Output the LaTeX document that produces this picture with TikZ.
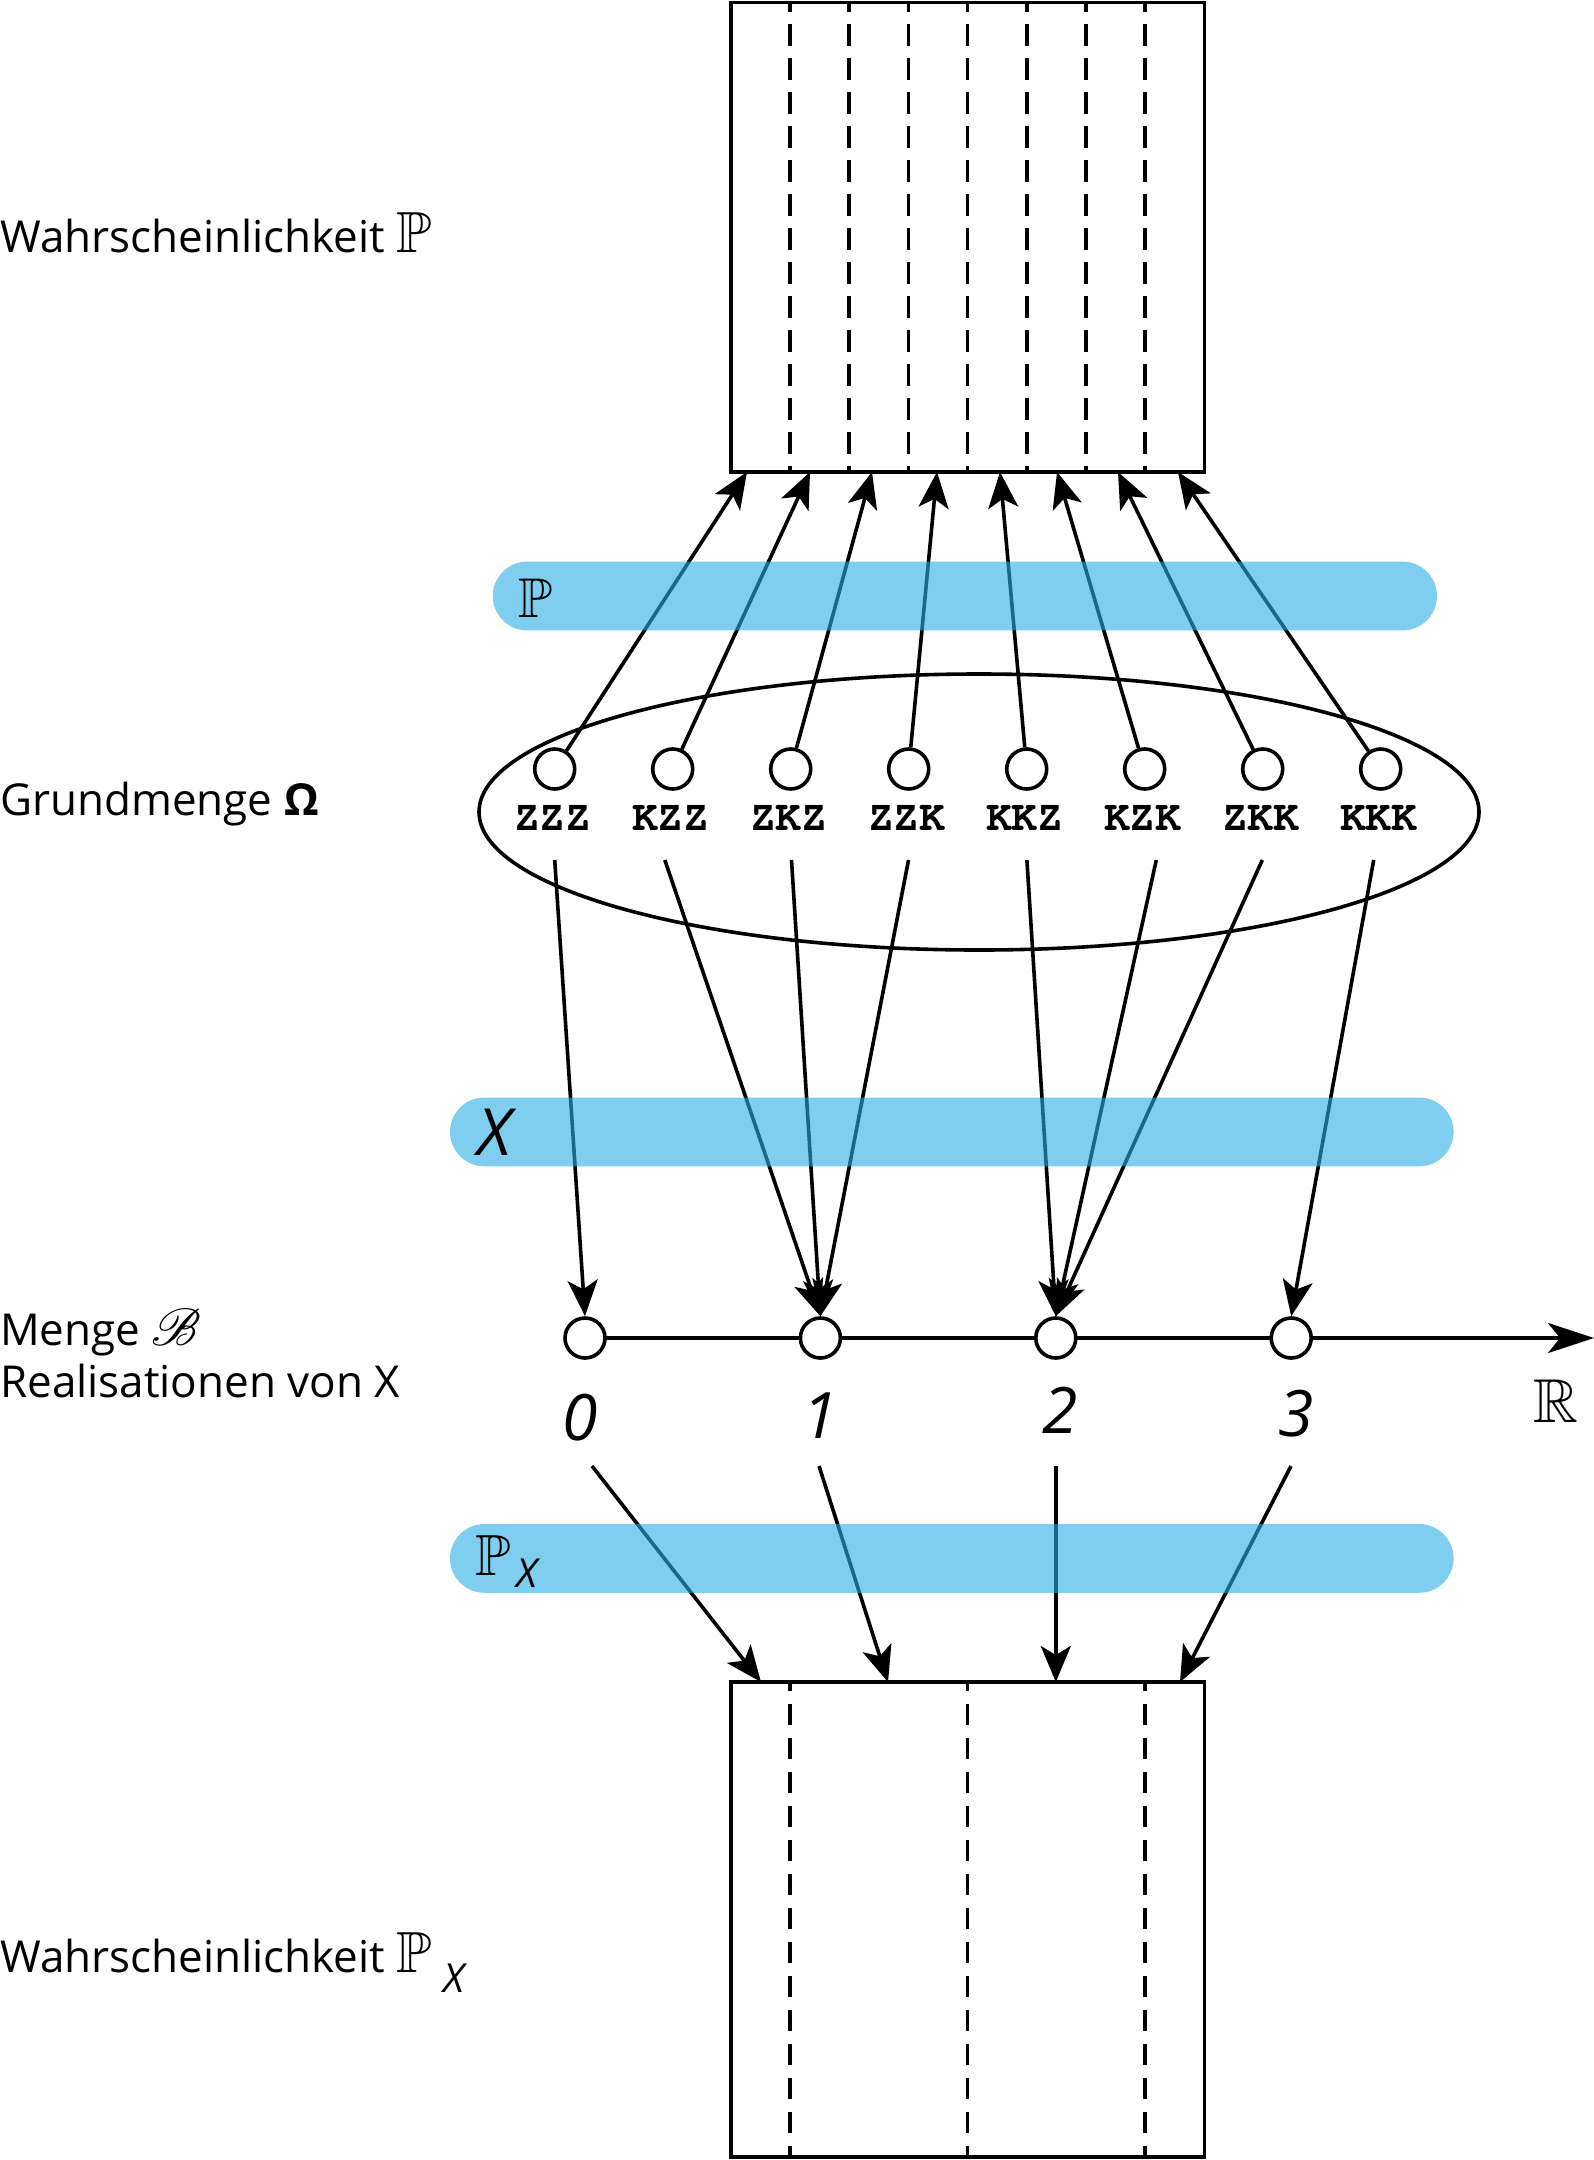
\documentclass[tikz,border=0pt]{standalone}
\usepackage{graphicx}
\usepackage{amssymb}
\usepackage{mathrsfs}
\IfFileExists{dsfont.sty}{\usepackage{dsfont}\newcommand\bbP{\mathds{P}}\newcommand\bbR{\mathds{R}}}{\newcommand\bbP{\mathbb{P}}\newcommand\bbR{\mathbb{R}}}
\usepackage{fontspec}
\setmainfont{Open Sans}
\usetikzlibrary{arrows.meta}
\definecolor{bandblue}{RGB}{42,173,230}
\newcommand\courbold{\fontencoding{T1}\fontfamily{pcr}\fontseries{b}\fontsize{43}{43}\selectfont}
\tikzset{
  ln/.style={line width=3.6pt},
  arr/.style={line width=3.6pt,-{Stealth[length=36pt,width=30pt,inset=9pt]}},
  dot/.style={circle,draw,line width=3.6pt,fill=white,minimum size=40pt,inner sep=0pt},
  band/.style={fill=bandblue,fill opacity=0.6},
  dsh/.style={line width=3.6pt,dash pattern=on 21.5pt off 12.5pt,dash phase=12.5pt},
  lbl/.style={anchor=base west,inner sep=0pt,font=\fontsize{44}{50}\selectfont},
  sq/.style={anchor=base,inner sep=0pt,font=\courbold},
  num/.style={anchor=base,inner sep=0pt,font=\itshape\fontsize{64}{70}\selectfont},
  bl/.style={anchor=base west,inner sep=0pt}
}
\begin{document}
\begin{tikzpicture}[x=1pt,y=-1pt]
\useasboundingbox (0,0) rectangle (1594,2160);

% top box
\draw[ln] (730.9,2.5) rectangle (1204.4,472);
\foreach \i in {1,...,7}{
  \draw[dsh] ({730.9+59.19*\i},2.5) -- ({730.9+59.19*\i},472);
}
% bottom box
\draw[ln] (730.9,1682) rectangle (1204.4,2157);
\foreach \i in {1,4,7}{
  \draw[dsh] ({730.9+59.19*\i},1682) -- ({730.9+59.19*\i},2157);
}

% ellipse
\draw[ln] (979,812) ellipse [x radius=500pt,y radius=138pt];

% outcomes
\foreach \n/\x/\t in {1/554.7/ZZZ,2/672.7/KZZ,3/790.7/ZKZ,4/908.7/ZZK,5/1026.7/KKZ,6/1144.7/KZK,7/1262.7/ZKK,8/1380.7/KKK}{
  \node[dot] (w\n) at (\x,769) {};
  \node[sq] (o\n) at (\x-2,830) {\t};
}

% tips at top box
\foreach \n/\x in {1/747,2/810,3/872,4/937,5/1000,6/1057,7/1118,8/1178}{
  \coordinate (t\n) at (\x,472);
}
\foreach \n in {1,...,8}{
  \draw[arr] (w\n) -- (t\n);
}

% down arrow starts
\foreach \n/\x in {1/554.7,2/664.8,3/791.5,4/908.5,5/1026.9,6/1156.3,7/1262.3,8/1373.7}{
  \coordinate (s\n) at (\x,860);
}

% axis
\coordinate (a0) at (585,1338);
\coordinate (aend) at (1594,1338);
\draw[line width=3.6pt,-{Stealth[length=46pt,width=30pt,inset=12pt]}] (a0) -- (aend);
\node[dot] (p0) at (585,1338) {};
\node[dot] (p1) at (820.4,1338) {};
\node[dot] (p2) at (1055.8,1338) {};
\node[dot] (p3) at (1291.2,1338) {};

\draw[arr] (s1) -- (p0.north);
\draw[arr] (s2) -- (p1.north);
\draw[arr] (s3) -- (p1.north);
\draw[arr] (s4) -- (p1.north);
\draw[arr] (s5) -- (p2.north);
\draw[arr] (s6) -- (p2.north);
\draw[arr] (s7) -- (p2.north);
\draw[arr] (s8) -- (p3.north);

% numbers
\node[num] (n0) at (580,1440) {0};
\node[num] (n1) at (820,1438) {1};
\node[num] (n2) at (1060,1433) {2};
\node[num] (n3) at (1296,1436) {3};
\node[bl] (nr) at (1533,1422) {\fontsize{62}{70}\selectfont$\bbR$};

% arrows to bottom box
\coordinate (u0) at (592,1466);
\coordinate (u1) at (819,1466);
\coordinate (u2) at (1055.8,1466);
\coordinate (u3) at (1291,1466);
\coordinate (b0) at (761,1682);
\coordinate (b1) at (888,1682);
\coordinate (b2) at (1055.8,1682);
\coordinate (b3) at (1180,1682);
\foreach \n in {0,...,3}{
  \draw[arr] (u\n) -- (b\n);
}

% bands
\fill[band,rounded corners=34.4pt] (492.8,561.6) rectangle (1437,630.4);
\fill[band,rounded corners=34.4pt] (450,1097.5) rectangle (1453.6,1166.3);
\fill[band,rounded corners=34.4pt] (450,1524) rectangle (1453.6,1592.8);

\node[bl] (bp) at (518,617) {\fontsize{56}{60}\selectfont$\bbP$};
\node[bl] (bx) at (477,1155) {\fontsize{65}{70}\selectfont\itshape X};
\node[bl] (bpx) at (475,1575) {\fontsize{58}{60}\selectfont$\bbP$\hspace{6pt}\raisebox{-12pt}{\fontsize{40}{40}\selectfont\itshape X}};

% left labels
\node[lbl] (lp) at (0,252) {Wahrscheinlichkeit {\fontsize{58}{60}\selectfont$\bbP$}};
\node[lbl] (lo) at (0,815) {Grundmenge {\bfseries\fontsize{44}{50}\selectfont Ω}};
\node[lbl] (lm) at (0,1345) {Menge {\fontsize{24.88}{30}\selectfont\scalebox{2.1}{$\mathscr{B}$}}};
\node[lbl] (lr) at (0,1397) {Realisationen von X};
\node[lbl] (lpx) at (0,1972) {Wahrscheinlichkeit {\fontsize{58}{60}\selectfont$\bbP$}\hspace{12pt}\raisebox{-20pt}{\fontsize{40}{40}\selectfont\itshape X}};
\end{tikzpicture}
\end{document}
